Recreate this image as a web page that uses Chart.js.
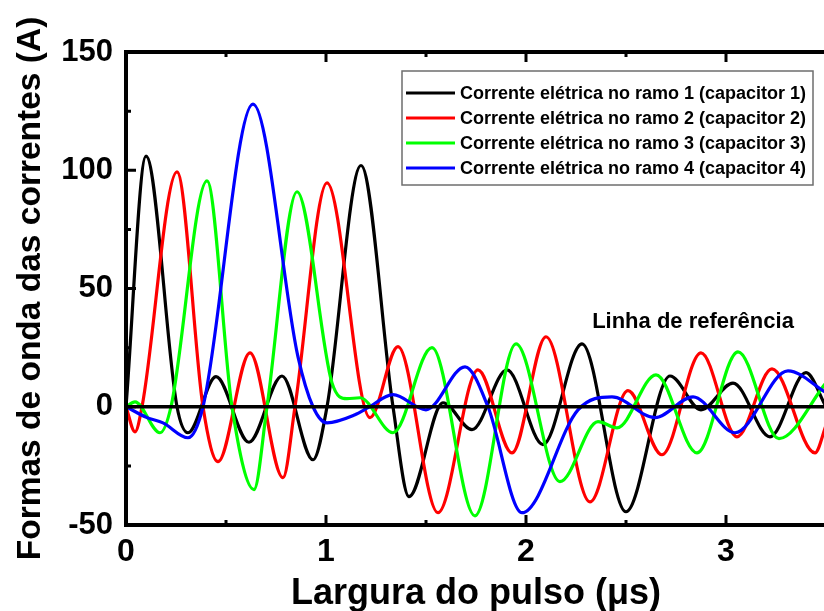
<!DOCTYPE html>
<html>
<head>
<meta charset="utf-8">
<script src="https://cdn.jsdelivr.net/npm/chart.js@4.4.1/dist/chart.umd.min.js"></script>
<style>
    html, body { margin: 0; padding: 0; overflow: hidden; background: #fff; }
    #wrap { position: absolute; left: 0; top: 0; width: 840px; height: 616px; }
</style>
</head>
<body>
<div id="wrap"><canvas id="grafico" width="840" height="616"></canvas></div>
<script>
// ─────────────────────────────────────────────
//  Dados (x em µs, y em A)
// ─────────────────────────────────────────────
const ramo1X = [0, 0.10, 0.255, 0.31, 0.45, 0.615, 0.78, 0.935, 1.005, 1.175, 1.335, 1.415, 1.585, 1.73, 1.905, 2.085, 2.28, 2.50, 2.72, 2.875, 3.035, 3.22, 3.40, 3.50];
const ramo1Y = [0, 106, 0, -11, 12.7, -15, 13, -22.4, 0, 102, 0, -38, 1.7, -9.7, 15.6, -16, 26.6, -44.4, 13, -1.3, 10, -12.7, 14.4, 0];

const ramo2X = [0, 0.045, 0.08, 0.255, 0.385, 0.46, 0.62, 0.785, 0.845, 1.005, 1.22, 1.36, 1.56, 1.76, 1.93, 2.10, 2.32, 2.51, 2.68, 2.875, 3.055, 3.23, 3.445, 3.50];
const ramo2Y = [0, -10.6, 0, 99.3, 0, -23.2, 22.8, -30, 0, 94.7, -4.6, 25.4, -44.8, 15.6, -19.5, 29.6, -40.2, 6.8, -20.3, 22.8, -12.7, 16, -19.5, -8];

const ramo3X = [0, 0.045, 0.17, 0.225, 0.405, 0.53, 0.64, 0.705, 0.855, 1.03, 1.105, 1.17, 1.335, 1.53, 1.745, 1.95, 2.17, 2.36, 2.455, 2.65, 2.855, 3.06, 3.265, 3.50];
const ramo3Y = [0, 2.1, -11, 0, 95.5, 0, -35, 0, 90.9, 10.1, 3.4, 3.8, -11, 25, -46.1, 26.6, -31.7, -6.3, -8.9, 13.5, -19.5, 23.2, -13.5, 10.1];

const ramo4X = [0, 0.105, 0.185, 0.31, 0.385, 0.635, 0.86, 0.935, 1.005, 1.145, 1.21, 1.335, 1.50, 1.695, 1.81, 1.98, 2.26, 2.43, 2.645, 2.835, 3.045, 3.31, 3.50];
const ramo4Y = [0, -4.6, -6.8, -13.1, 0, 128, 21.1, 0, -6.8, -3.4, -0.4, 5.1, -1.3, 16.9, 0, -44.8, -1.3, 4.2, -4.6, 4.2, -11, 15.2, 6];

const referenciaX = [0, 3.5];
const referenciaY = [0, 0];

const rotulos = [
    'Corrente elétrica no ramo 1 (capacitor 1)',
    'Corrente elétrica no ramo 2 (capacitor 2)',
    'Corrente elétrica no ramo 3 (capacitor 3)',
    'Corrente elétrica no ramo 4 (capacitor 4)'
];
const cores = ['#000000', '#ff0000', '#00ff00', '#0000ff'];
const textoReferencia = 'Linha de referência';

const FONTE = "'Liberation Sans', Arial, sans-serif";
const FONTE_ESTREITA = "'Liberation Sans Narrow', 'Arial Narrow', 'Liberation Sans', sans-serif";

const pares = (xs, ys) => xs.map((x, i) => ({ x, y: ys[i] }));

const series = [[ramo1X, ramo1Y], [ramo2X, ramo2Y], [ramo3X, ramo3Y], [ramo4X, ramo4Y]];

const datasets = [{
    label: textoReferencia,
    data: pares(referenciaX, referenciaY),
    borderColor: '#000',
    borderWidth: 3.5,
    pointRadius: 0,
    order: 0
}];
series.forEach(([xs, ys], i) => {
    datasets.push({
        label: rotulos[i],
        data: pares(xs, ys),
        borderColor: cores[i],
        borderWidth: 3.2,
        pointRadius: 0,
        cubicInterpolationMode: 'monotone',
        order: 4 - i
    });
});

// Moldura, marcas internas, legenda e texto da linha de referência
const molduraPlugin = {
    id: 'moldura',
    afterDatasetsDraw(chart) {
        const { ctx, chartArea: a, scales: { x, y } } = chart;
        ctx.save();
        ctx.strokeStyle = '#000';

        // marcas
        const xMaj = x.ticks.map(t => t.value);
        const yMaj = y.ticks.map(t => t.value);
        const xMin = xMaj.map(v => v + 0.5);
        const yMin = yMaj.slice(0, -1).map(v => v + 25);
        ctx.lineWidth = 3;
        ctx.beginPath();
        const marca = (vals, len, horiz) => vals.forEach(v => {
            if (horiz) {
                const px = x.getPixelForValue(v);
                ctx.moveTo(px, a.bottom); ctx.lineTo(px, a.bottom - len);
                ctx.moveTo(px, a.top); ctx.lineTo(px, a.top + len);
            } else {
                const py = y.getPixelForValue(v);
                ctx.moveTo(a.left, py); ctx.lineTo(a.left + len, py);
            }
        });
        marca(xMaj, 10, true);
        marca(xMin, 5, true);
        marca(yMaj, 10, false);
        marca(yMin, 5, false);
        ctx.stroke();

        ctx.lineWidth = 4;
        ctx.beginPath();
        ctx.moveTo(a.left - 2, a.top); ctx.lineTo(a.right, a.top);
        ctx.moveTo(a.left, a.top); ctx.lineTo(a.left, a.bottom + 2);
        ctx.moveTo(a.left - 2, a.bottom); ctx.lineTo(a.right, a.bottom);
        ctx.moveTo(a.right, a.top); ctx.lineTo(a.right, a.bottom);
        ctx.stroke();

        // legenda
        const lx = 402, ly = 71, lw = 411, lh = 114;
        ctx.fillStyle = '#fff';
        ctx.fillRect(lx, ly, lw, lh);
        ctx.strokeStyle = '#6e6e6e';
        ctx.lineWidth = 1.5;
        ctx.strokeRect(lx, ly, lw, lh);
        ctx.font = `bold 18px ${FONTE}`;
        ctx.textBaseline = 'middle';
        ctx.textAlign = 'left';
        rotulos.forEach((r, i) => {
            const yy = ly + 22 + i * 25;
            ctx.strokeStyle = cores[i];
            ctx.lineWidth = 3;
            ctx.beginPath();
            ctx.moveTo(lx + 4, yy); ctx.lineTo(lx + 53, yy);
            ctx.stroke();
            ctx.fillStyle = '#000';
            ctx.fillText(r, lx + 58, yy + 1, 348);
        });

        // texto da linha de referência
        ctx.font = `bold 22px ${FONTE}`;
        ctx.textAlign = 'center';
        ctx.fillText(textoReferencia, x.getPixelForValue(2.835), y.getPixelForValue(36));
        ctx.restore();
    }
};

new Chart(document.getElementById('grafico'), {
    type: 'line',
    data: { datasets },
    options: {
        responsive: false,
        animation: false,
        devicePixelRatio: 1,
        layout: { padding: { top: 52, right: 14, left: 0, bottom: 0 } },
        plugins: { legend: { display: false }, tooltip: { enabled: false } },
        scales: {
            x: {
                type: 'linear',
                min: 0,
                max: 3.5,
                grid: { display: false, drawTicks: false },
                border: { display: false },
                afterFit: s => { s.height = 91; },
                afterBuildTicks: s => { s.ticks = s.ticks.filter(t => Number.isInteger(t.value)); },
                ticks: {
                    stepSize: 1,
                    padding: 8,
                    color: '#000',
                    font: { family: FONTE_ESTREITA, size: 32, weight: 'bold' }
                },
                title: {
                    display: true,
                    text: 'Largura do pulso (μs)',
                    color: '#000',
                    padding: { top: 4, bottom: 0 },
                    font: { family: FONTE, size: 36, weight: 'bold' }
                }
            },
            y: {
                min: -50,
                max: 150,
                grid: { display: false, drawTicks: false },
                border: { display: false },
                afterFit: s => { s.width = 126; },
                ticks: {
                    stepSize: 50,
                    padding: 13,
                    color: '#000',
                    font: { family: FONTE, size: 31, weight: 'bold' }
                },
                title: {
                    display: true,
                    text: 'Formas de onda das correntes (A)',
                    color: '#000',
                    padding: { top: 11, bottom: 0 },
                    font: { family: FONTE, size: 33.5, weight: 'bold' }
                }
            }
        }
    },
    plugins: [molduraPlugin]
});
</script>
</body>
</html>
